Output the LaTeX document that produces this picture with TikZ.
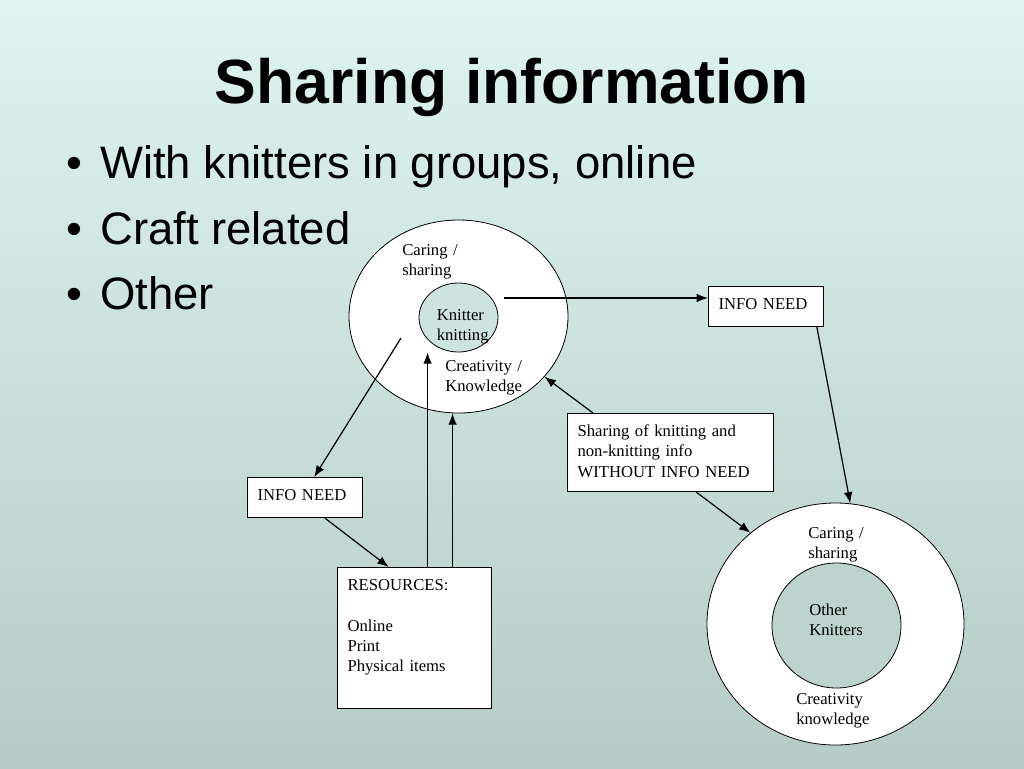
\documentclass[tikz,border=0pt]{standalone}
\usepackage{fontspec}
\setmainfont{Liberation Serif}
\newfontfamily\slidesans{Liberation Sans}
\usetikzlibrary{arrows.meta,positioning,shapes.geometric}
\definecolor{slidetop}{HTML}{DDF4F0}
\definecolor{slidebottom}{HTML}{B4CBC6}

\begin{document}
\begin{tikzpicture}[
x=0.75pt, y=-0.75pt,
ring/.style={ellipse, draw, fill=white, inner sep=0pt, line width=0.6pt},
core/.style={ellipse, draw, inner sep=0pt, line width=0.6pt},
infobox/.style={rectangle, draw, fill=white, anchor=north west, inner xsep=7.5pt, inner ysep=0pt, align=left, text height=17.25pt, line width=0.8pt, font=\fontsize{12.5pt}{15.2pt}\selectfont},
ringtext/.style={anchor=base west, inner sep=0pt, text width=70pt, align=left, font=\fontsize{12.5pt}{15.2pt}\selectfont},
bulletline/.style={anchor=base west, inner sep=0pt, font=\slidesans\fontsize{34.1pt}{40pt}\selectfont},
flow/.style={line width=0.9pt, arrows={-Latex[length=8.5pt,width=6.5pt]}}]
% Background
\shade[top color=slidetop, bottom color=slidebottom] (0,0) rectangle (1024,768);
\useasboundingbox (0,0) rectangle (1024,768);
% Title
\node[anchor=base, inner sep=0pt, font=\slidesans\bfseries\fontsize{46.9pt}{56pt}\selectfont] (title) at (512,103) {Sharing information};
\node[bulletline] (item1) at (66,178) {\makebox[25.5pt][l]{•}With knitters in groups, online};
\node[bulletline] (item2) at (66,244) {\makebox[25.5pt][l]{•}Craft related};
\node[bulletline] (item3) at (66,309) {\makebox[25.5pt][l]{•}Other};
% Rings
\node[ring, minimum width=164.25pt, minimum height=144.75pt] (outer1) at (458.5,316.5) {};
\node[core, fill=slidebottom!41!slidetop, minimum width=59.25pt, minimum height=51.75pt] (inner1) at (458.5,317.5) {};
\node[ring, minimum width=192.75pt, minimum height=181.5pt] (outer2) at (835.5,624) {};
\node[core, fill=slidebottom!81!slidetop, minimum width=96.75pt, minimum height=93.75pt] (inner2) at (836.5,625.5) {};
\node[ringtext] (care1) at (402,255) {Caring /\\sharing};
\node[ringtext] (knitter) at (436.5,320) {Knitter\\knitting};
\node[ringtext] (create1) at (445,371) {Creativity /\\Knowledge};
\node[ringtext] (care2) at (808,538) {Caring /\\sharing};
\node[ringtext] (others) at (809,615) {Other\\Knitters};
\node[ringtext] (create2) at (796,704) {Creativity\\knowledge};
% Boxes
\node[infobox, text width=71.25pt, text depth=12.75pt] (need1) at (708,286) {INFO NEED};
\node[infobox, text width=71.25pt, text depth=12.75pt] (need2) at (247,477) {INFO NEED};
\node[infobox, text width=139.5pt, text depth=41.25pt] (share) at (567,413) {Sharing of knitting and\\non-knitting info\\WITHOUT INFO NEED};
\node[infobox, text width=100.5pt, text depth=88.5pt] (res) at (337,567) {RESOURCES:\\[15.2pt]Online\\Print\\Physical items};
\coordinate (knitout) at (504,298);
\coordinate (careout) at (401,338);
% Lines
\draw[flow] (knitout) -- (knitout -| need1.west);
\draw[flow] (need1.-22) -- (outer2.83);
\draw[flow] (careout) -- (need2.66.4);
\draw[flow] (need2.-46.5) -- (res.110.2);
\draw[flow] ([xshift=9.75pt]res.north) -- ([xshift=9.75pt]res.north |- inner1.south);
\draw[flow] ([xshift=28.5pt]res.north) -- ([xshift=28.5pt]res.north |- outer1.south);
\draw[flow] (share.153.1) -- (outer1.-35.5);
\draw[flow] (share.-57.3) -- (outer2.133);
\end{tikzpicture}
\end{document}
